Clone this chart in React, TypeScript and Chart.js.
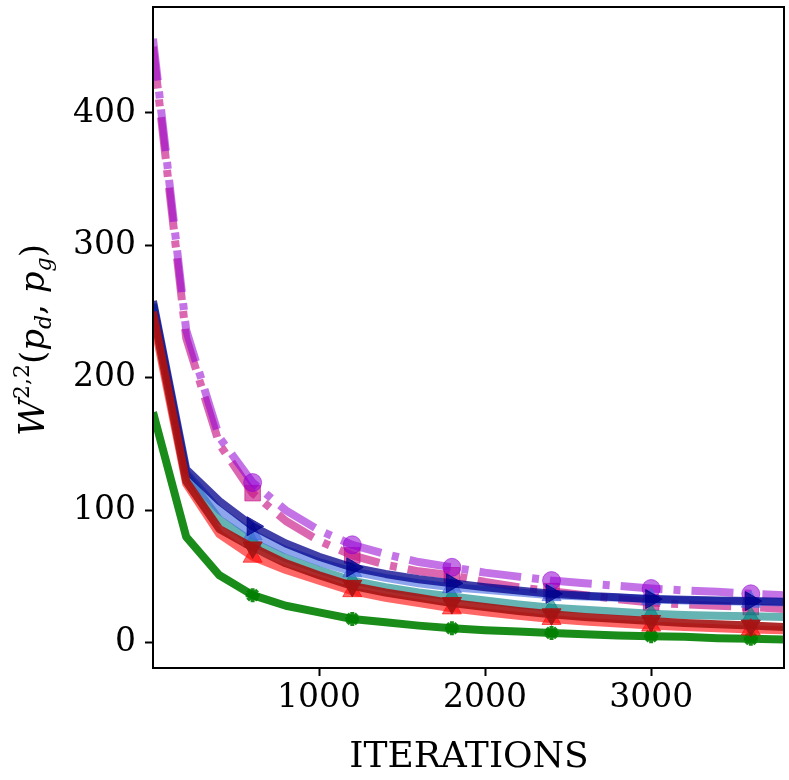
import React, { useEffect, useRef } from "react";
import Chart from "chart.js/auto";

const iterations = [0, 200, 400, 600, 800, 1000, 1200, 1400, 1600, 1800, 2000, 2200, 2400, 2600, 2800, 3000, 3200, 3400, 3600, 3800];
const markerIterations = [600, 1200, 1800, 2400, 3000, 3600];
const xTicks = [1000, 2000, 3000];
const yTicks = [0, 100, 200, 300, 400];

const violet = [456, 236, 155, 121, 100, 85, 74, 67, 61, 57, 53, 50, 47, 45, 43, 41, 39.5, 38.5, 37, 36];
const magenta = [450, 230, 150, 113, 92, 77, 66, 59, 54, 51, 46, 42, 39, 36, 33, 30.5, 29, 28, 27, 25.5];
const navy = [258, 131, 107, 88, 75, 65, 57, 52, 48, 45, 42, 39.5, 37, 35.5, 34.5, 33, 32.5, 32, 31.5, 31];
const lightBlue = [255, 128, 100, 82, 70, 61, 54, 49, 45, 42, 40, 38, 36, 35, 34, 33, 32, 31.5, 31, 30.5];
const teal = [256, 127, 93, 76, 64, 55, 47, 42, 38, 35, 32, 29, 26.5, 25, 23.5, 22, 21, 20.5, 20, 19.5];
const darkRed = [250, 122, 86, 72, 60, 51, 43, 38, 34, 30, 27, 24, 21.5, 19.5, 18, 16.5, 15, 14, 13, 12];
const red = [245, 120, 82, 65, 55, 47, 39, 34, 30, 26, 23, 20.5, 18, 16, 14.5, 13, 12, 11, 10, 9.5];
const green = [174, 80, 51, 36, 28, 23, 18, 15.5, 13, 11, 9.5, 8.5, 7.5, 6.5, 5.5, 5, 4.5, 3.5, 3, 2.5];

const SERIF = "'DejaVu Serif', 'Liberation Serif', serif";

// line helper, markers only every 600 iterations
const series = (values: number[], color: string, marker: string, radius: number, opts: any = {}) => ({
  data: values.map((v, i) => ({ x: iterations[i], y: v })),
  borderColor: color,
  backgroundColor: color,
  borderWidth: 8,
  borderJoinStyle: "round",
  borderCapStyle: "butt",
  tension: 0,
  clip: 0,
  pointStyle: marker,
  pointBackgroundColor: color,
  pointBorderColor: color,
  pointBorderWidth: 1,
  pointRadius: (ctx: any) => (markerIterations.includes(iterations[ctx.dataIndex]) ? radius : 0),
  ...opts,
});

const labelsPlugin = {
  id: "labels",
  afterDatasetsDraw(chart: any) {
    const { ctx, chartArea: a } = chart;
    ctx.save();
    ctx.strokeStyle = "#000";
    ctx.lineWidth = 2;
    ctx.strokeRect(a.left, a.top, a.right - a.left, a.bottom - a.top);
    ctx.restore();
  },
  afterDraw(chart: any) {
    const { ctx } = chart;
    ctx.save();
    ctx.fillStyle = "#000";
    ctx.font = `36px ${SERIF}`;
    ctx.textAlign = "center";
    ctx.textBaseline = "alphabetic";
    ctx.fillText("ITERATIONS", 469, 767);

    // y label: W^{2,2}(p_d, p_g), rotated
    const pieces = [
      { t: "W", s: 36, it: true, dy: 0 },
      { t: "2,2", s: 22, it: false, dy: -15 },
      { t: "(", s: 34, it: false, dy: 0 },
      { t: "p", s: 34, it: true, dy: 0 },
      { t: "d", s: 22, it: true, dy: 7 },
      { t: ", ", s: 34, it: false, dy: 0 },
      { t: "p", s: 34, it: true, dy: 0 },
      { t: "g", s: 22, it: true, dy: 7 },
      { t: ")", s: 34, it: false, dy: 0 },
    ];
    const fontOf = (p: any) => `${p.it ? "italic " : ""}${p.s}px ${SERIF}`;
    let total = 0;
    pieces.forEach((p) => {
      ctx.font = fontOf(p);
      total += ctx.measureText(p.t).width;
    });
    ctx.translate(44, 340);
    ctx.rotate(-Math.PI / 2);
    ctx.textAlign = "left";
    let x = -total / 2;
    pieces.forEach((p) => {
      ctx.font = fontOf(p);
      ctx.fillText(p.t, x, p.dy);
      x += ctx.measureText(p.t).width;
    });
    ctx.restore();
  },
};

const App = () => {
  const chartRef = useRef<HTMLCanvasElement | null>(null);
  const chartInstanceRef = useRef<Chart | null>(null);

  useEffect(() => {
    const ctx = chartRef.current?.getContext("2d");
    if (!ctx) return;
    if (chartInstanceRef.current) chartInstanceRef.current.destroy();

    const tickFont = { family: SERIF, size: 33 };
    const grid = {
      drawOnChartArea: false,
      drawTicks: true,
      tickLength: 8,
      tickWidth: 2,
      tickColor: "#000",
    };
    const noPadding = (scale: any) => {
      scale.paddingTop = 0;
      scale.paddingBottom = 0;
      scale.paddingLeft = 0;
      scale.paddingRight = 0;
    };

    chartInstanceRef.current = new Chart(ctx, {
      type: "line",
      data: {
        datasets: [
          series(darkRed, "rgba(165, 20, 20, 0.9)", "triangle", 11, { pointRotation: 180 }),
          series(red, "rgba(255, 0, 0, 0.6)", "triangle", 11),
          series(navy, "rgba(0, 0, 139, 0.75)", "triangle", 11, { pointRotation: 90 }),
          series(lightBlue, "rgba(65, 105, 225, 0.6)", "triangle", 11),
          series(teal, "rgba(0, 128, 128, 0.6)", "triangle", 10),
          series(violet, "rgba(148, 0, 211, 0.55)", "circle", 9, { borderDash: [42, 11, 7, 11] }),
          series(magenta, "rgba(199, 21, 133, 0.65)", "rect", 11, { borderDash: [42, 11, 7, 11] }),
          series(green, "rgba(0, 128, 0, 0.9)", "star", 7, { pointBorderWidth: 4 }),
        ] as any,
      },
      options: {
        animation: false,
        responsive: true,
        maintainAspectRatio: false,
        layout: { padding: { left: 0, right: 5, top: 7, bottom: 0 } },
        scales: {
          x: {
            type: "linear",
            min: 0,
            max: 3800,
            afterBuildTicks: (scale: any) => {
              scale.ticks = xTicks.map((v) => ({ value: v }));
            },
            afterFit: (scale: any) => {
              scale.height = 112;
              noPadding(scale);
            },
            grid,
            border: { display: false },
            ticks: { font: tickFont, color: "#000", padding: 3, maxRotation: 0, callback: (v: any) => String(v) },
          },
          y: {
            type: "linear",
            min: -19,
            max: 480,
            afterBuildTicks: (scale: any) => {
              scale.ticks = yTicks.map((v) => ({ value: v }));
            },
            afterFit: (scale: any) => {
              scale.width = 153;
              noPadding(scale);
            },
            grid,
            border: { display: false },
            ticks: { font: tickFont, color: "#000", padding: 9, callback: (v: any) => String(v) },
          },
        },
        plugins: {
          legend: { display: false },
          tooltip: { enabled: false },
        },
      },
      plugins: [labelsPlugin],
    });

    return () => {
      if (chartInstanceRef.current) {
        chartInstanceRef.current.destroy();
        chartInstanceRef.current = null;
      }
    };
  }, []);

  return (
    <div style={{ position: "absolute", left: 0, top: 0, width: 789, height: 780 }}>
      <canvas ref={chartRef}></canvas>
    </div>
  );
};

export default App;
